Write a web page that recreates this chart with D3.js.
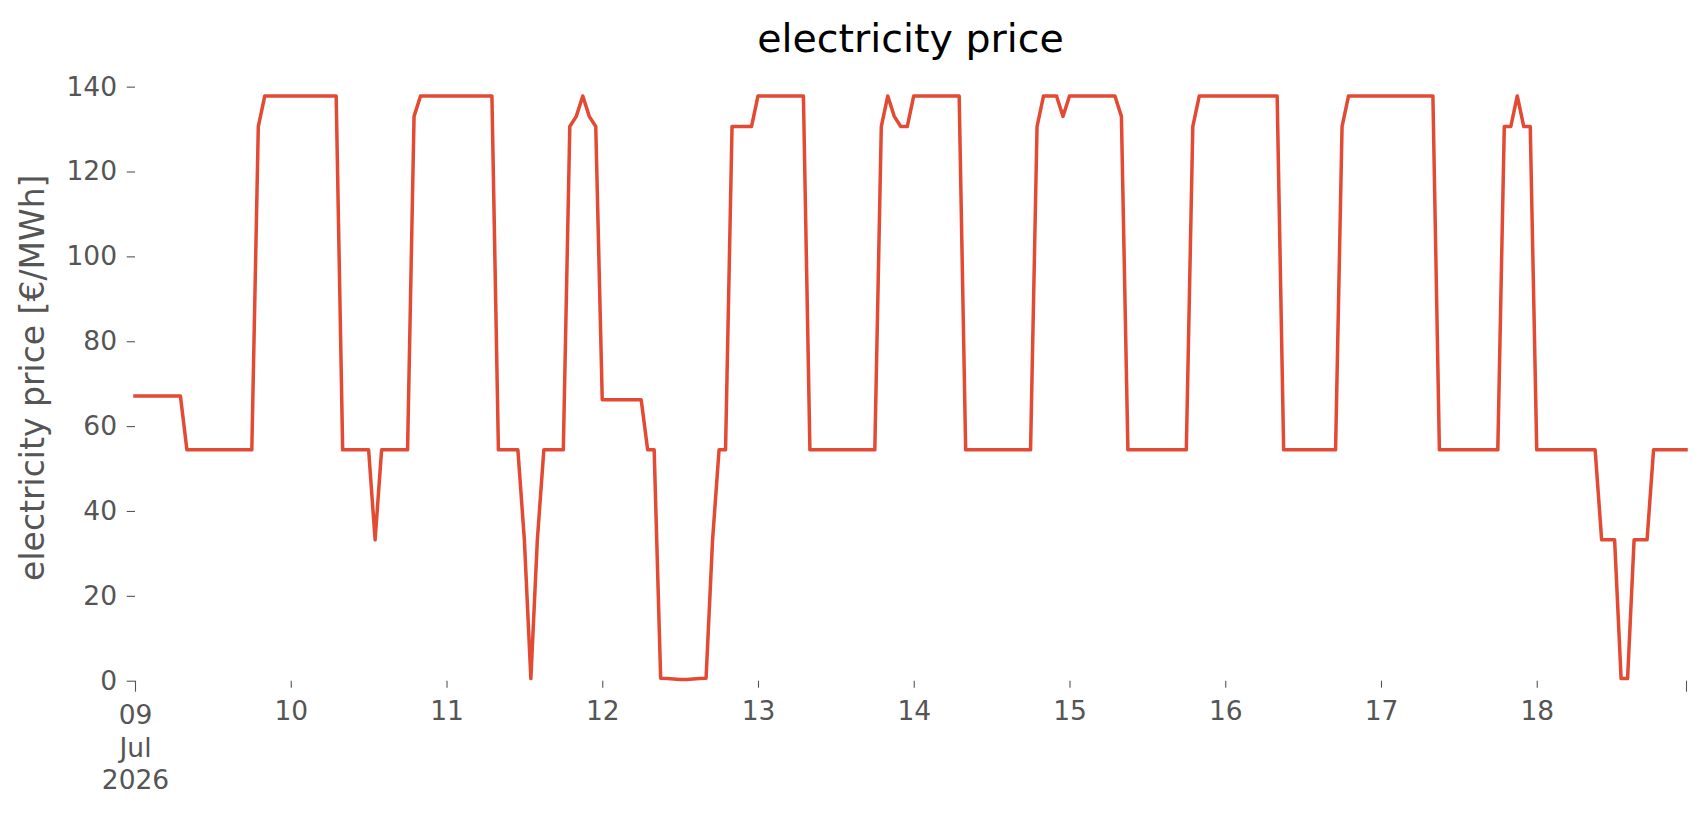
<!DOCTYPE html>
<html>
<head>
<meta charset="utf-8">
<script src="https://cdn.jsdelivr.net/npm/d3@7"></script>
<style>
  body { margin: 0; background: #ffffff; }
  text { font-family: "DejaVu Sans", sans-serif; }
</style>
</head>
<body>
<div id="container"></div>
<script>
let w = 1706;
let h = 815;

// hourly prices, one array per day (€/MWh)
let price09 = [67.1, 67.1, 67.1, 67.1, 67.1, 67.1, 67.1, 67.1, 54.4, 54.4, 54.4, 54.4, 54.4, 54.4, 54.4, 54.4, 54.4, 54.4, 54.4, 130.6, 137.8, 137.8, 137.8, 137.8];
let price10 = [137.8, 137.8, 137.8, 137.8, 137.8, 137.8, 137.8, 137.8, 54.4, 54.4, 54.4, 54.4, 54.4, 33.2, 54.4, 54.4, 54.4, 54.4, 54.4, 133.0, 137.8, 137.8, 137.8, 137.8];
let price11 = [137.8, 137.8, 137.8, 137.8, 137.8, 137.8, 137.8, 137.8, 54.4, 54.4, 54.4, 54.4, 33.2, 0.5, 33.2, 54.4, 54.4, 54.4, 54.4, 130.6, 133.0, 137.8, 133.0, 130.6];
let price12 = [66.2, 66.2, 66.2, 66.2, 66.2, 66.2, 66.2, 54.4, 54.4, 0.6, 0.5, 0.4, 0.3, 0.3, 0.4, 0.5, 0.6, 33.2, 54.4, 54.4, 130.6, 130.6, 130.6, 130.6];
let price13 = [137.8, 137.8, 137.8, 137.8, 137.8, 137.8, 137.8, 137.8, 54.4, 54.4, 54.4, 54.4, 54.4, 54.4, 54.4, 54.4, 54.4, 54.4, 54.4, 130.6, 137.8, 133.0, 130.6, 130.6];
let price14 = [137.8, 137.8, 137.8, 137.8, 137.8, 137.8, 137.8, 137.8, 54.4, 54.4, 54.4, 54.4, 54.4, 54.4, 54.4, 54.4, 54.4, 54.4, 54.4, 130.6, 137.8, 137.8, 137.8, 133.0];
let price15 = [137.8, 137.8, 137.8, 137.8, 137.8, 137.8, 137.8, 137.8, 133.0, 54.4, 54.4, 54.4, 54.4, 54.4, 54.4, 54.4, 54.4, 54.4, 54.4, 130.6, 137.8, 137.8, 137.8, 137.8];
let price16 = [137.8, 137.8, 137.8, 137.8, 137.8, 137.8, 137.8, 137.8, 137.8, 54.4, 54.4, 54.4, 54.4, 54.4, 54.4, 54.4, 54.4, 54.4, 130.6, 137.8, 137.8, 137.8, 137.8, 137.8];
let price17 = [137.8, 137.8, 137.8, 137.8, 137.8, 137.8, 137.8, 137.8, 137.8, 54.4, 54.4, 54.4, 54.4, 54.4, 54.4, 54.4, 54.4, 54.4, 54.4, 130.6, 130.6, 137.8, 130.6, 130.6];
let price18 = [54.4, 54.4, 54.4, 54.4, 54.4, 54.4, 54.4, 54.4, 54.4, 54.4, 33.2, 33.2, 33.2, 0.5, 0.5, 33.2, 33.2, 33.2, 54.4, 54.4, 54.4, 54.4, 54.4, 54.4];

let dayLabels = ["09", "10", "11", "12", "13", "14", "15", "16", "17", "18"];
let monthLabel = "Jul";
let yearLabel = "2026";
let yTicks = [0, 20, 40, 60, 80, 100, 120, 140];

let titleText = "electricity price";
let yLabelText = "electricity price [€/MWh]";

let lineColor = "#E24A33";
let textColor = "#555555";

let allDays = [price09, price10, price11, price12, price13, price14, price15, price16, price17, price18];

// one row per hour
let data = [];
allDays.forEach(function(day, di){
  day.forEach(function(v, hi){
    data.push({t: new Date(2026, 6, 9 + di, hi), v: v});
  });
});

let viz = d3.select("#container").append("svg")
    .attr("width", w)
    .attr("height", h)
    .style("background-color", "#ffffff");

let plotLeft = 135, plotRight = 1686, plotTop = 66.7, plotBottom = 680.7;

let xScale = d3.scaleTime()
    .domain(d3.extent(data, d => d.t))
    .range([plotLeft, plotRight]);

let yScale = d3.scaleLinear()
    .domain([0, 144.7])
    .range([plotBottom, plotTop]);

// y axis
let yAxis = d3.axisLeft(yScale)
    .tickValues(yTicks)
    .tickSize(8.3)
    .tickPadding(9.7);
let yAxisGroup = viz.append("g").attr("transform", "translate(" + plotLeft + ",0)").call(yAxis);
yAxisGroup.select(".domain").remove();
yAxisGroup.selectAll("line").attr("stroke", textColor).attr("stroke-width", 1.1);
yAxisGroup.selectAll("text")
    .attr("fill", textColor)
    .style("font-size", "26.5px")
    .style("font-family", "DejaVu Sans");

// x axis: day ticks (minor) plus the two long ticks at the ends
let dayDates = dayLabels.map((d, i) => new Date(2026, 6, 9 + i));
let minorAxis = d3.axisBottom(xScale)
    .tickValues(dayDates.slice(1))
    .tickSize(7)
    .tickPadding(13.3)
    .tickFormat((d, i) => dayLabels[i + 1]);
let minorGroup = viz.append("g").attr("transform", "translate(0," + plotBottom + ")").call(minorAxis);
minorGroup.select(".domain").remove();

let majorAxis = d3.axisBottom(xScale)
    .tickValues(xScale.domain())
    .tickSize(11)
    .tickPadding(13.3)
    .tickFormat(() => "");
let majorGroup = viz.append("g").attr("transform", "translate(0," + plotBottom + ")").call(majorAxis);
majorGroup.select(".domain").remove();

[minorGroup, majorGroup].forEach(function(g){
  g.selectAll("line").attr("stroke", textColor).attr("stroke-width", 1.1);
  g.selectAll("text")
    .attr("fill", textColor)
    .style("font-size", "26.5px")
    .style("font-family", "DejaVu Sans");
});

// three line label under the first tick
let firstLabel = majorGroup.selectAll(".tick text").filter((d, i) => i == 0);
firstLabel.text(null);
[dayLabels[0], monthLabel, yearLabel].forEach(function(s, i){
  firstLabel.append("tspan")
    .attr("x", 0)
    .attr("dy", i == 0 ? "0.71em" : "32.8px")
    .text(s);
});
firstLabel.attr("dy", null);

// the price line
let line = d3.line()
    .x(d => xScale(d.t))
    .y(d => yScale(d.v));

viz.append("path")
    .datum(data)
    .attr("d", line)
    .attr("fill", "none")
    .attr("stroke", lineColor)
    .attr("stroke-width", 3.5)
    .attr("stroke-linejoin", "round")
    .attr("stroke-linecap", "square");

// title and y label
viz.append("text")
    .attr("x", (plotLeft + plotRight) / 2)
    .attr("y", 51.7)
    .attr("text-anchor", "middle")
    .style("font-size", "39.5px")
    .attr("fill", "#000000")
    .text(titleText);

viz.append("text")
    .attr("transform", "translate(44," + ((plotTop + plotBottom) / 2 + 4) + ") rotate(-90)")
    .attr("text-anchor", "middle")
    .style("font-size", "33px")
    .attr("fill", textColor)
    .text(yLabelText);
</script>
</body>
</html>
